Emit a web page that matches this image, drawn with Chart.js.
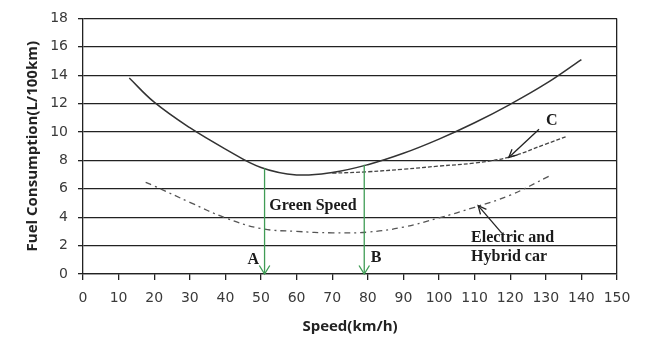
<!DOCTYPE html>
<html><head><meta charset="utf-8">
<script src="https://cdn.jsdelivr.net/npm/chart.js@4/dist/chart.umd.min.js"></script>
<style>html,body{margin:0;padding:0;background:#fff}#wrap{width:645px;height:355px}</style>
</head><body><div id="wrap"><canvas id="c" width="645" height="355"></canvas></div>
<script>
// ---- data ----
const xTickValues = [0,10,20,30,40,50,60,70,80,90,100,110,120,130,140,150];
const yTickValues = [0,2,4,6,8,10,12,14,16,18];

const conventionalSpeed = [13,20,30,40,50,60,70,80,90,100,110,120,130,140];
const conventionalFuel  = [13.8,12.1,10.3,8.8,7.5,6.98,7.15,7.7,8.5,9.5,10.65,11.95,13.4,15.1];

const curveCSpeed = [70,80,90,100,110,120,130,136];
const curveCFuel  = [7.1,7.2,7.38,7.6,7.82,8.25,9.15,9.7];

const hybridSpeed = [17.6,20,30,40,50,60,70,80,90,100,110,120,131];
const hybridFuel  = [6.45,6.2,5.05,3.95,3.2,3.0,2.9,2.95,3.3,3.95,4.7,5.55,6.9];

const greenArrowSpeed = [51,79];
const greenArrowTop   = [7.45,7.7];

const labelTexts = ['Green Speed','A','B','C','Electric and','Hybrid car'];
const labelX     = [64.6,47.8,82.3,131.7,109,109];
const labelY     = [4.81,0.98,1.12,10.8,2.58,1.19];
const labelAlign = ['center','center','center','center','left','left'];

const blackArrowFromX = [128.1,117.7];
const blackArrowFromY = [10.19,2.86];
const blackArrowToX   = [119.6,111.0];
const blackArrowToY   = [8.2,4.81];

const toPts = (xs, ys) => xs.map((v,i)=>({x:v,y:ys[i]}));

function arrowHead(ctx, x1, y1, x2, y2, len, spread){
  const a = Math.atan2(y2-y1, x2-x1);
  ctx.beginPath();
  ctx.moveTo(x2 - len*Math.cos(a-spread), y2 - len*Math.sin(a-spread));
  ctx.lineTo(x2, y2);
  ctx.lineTo(x2 - len*Math.cos(a+spread), y2 - len*Math.sin(a+spread));
  ctx.stroke();
}

const annot = {
  id:'annot',
  afterDatasetsDraw(chart){
    const {ctx, scales:{x,y}} = chart;
    ctx.save();
    ctx.strokeStyle = '#3f9c55';
    ctx.lineWidth = 1.3;
    greenArrowSpeed.forEach((s,i)=>{
      const px = x.getPixelForValue(s);
      const py1 = y.getPixelForValue(greenArrowTop[i]);
      const py2 = y.getPixelForValue(0);
      ctx.beginPath(); ctx.moveTo(px,py1); ctx.lineTo(px,py2); ctx.stroke();
      arrowHead(ctx, px, py1, px, py2, 10, 0.55);
    });
    ctx.strokeStyle = '#222';
    ctx.lineWidth = 1.3;
    blackArrowFromX.forEach((fx,i)=>{
      const x1 = x.getPixelForValue(fx), y1 = y.getPixelForValue(blackArrowFromY[i]);
      const x2 = x.getPixelForValue(blackArrowToX[i]), y2 = y.getPixelForValue(blackArrowToY[i]);
      ctx.beginPath(); ctx.moveTo(x1,y1); ctx.lineTo(x2,y2); ctx.stroke();
      arrowHead(ctx, x1, y1, x2, y2, 9, 0.45);
    });
    ctx.fillStyle = '#1a1a1a';
    ctx.font = 'bold 16px "Liberation Serif", serif';
    ctx.textBaseline = 'middle';
    labelTexts.forEach((t,i)=>{
      ctx.textAlign = labelAlign[i];
      ctx.fillText(t, x.getPixelForValue(labelX[i]), y.getPixelForValue(labelY[i]));
    });
    ctx.restore();
  }
};

new Chart(document.getElementById('c'), {
  type:'scatter',
  data:{
    datasets:[
      {data:toPts(conventionalSpeed, conventionalFuel), showLine:true, borderColor:'#333', borderWidth:1.5, pointRadius:0, tension:0.4, fill:false},
      {data:toPts(curveCSpeed, curveCFuel), showLine:true, borderColor:'#444', borderWidth:1.3, borderDash:[4,2], pointRadius:0, tension:0.4, fill:false},
      {data:toPts(hybridSpeed, hybridFuel), showLine:true, borderColor:'#555', borderWidth:1.3, borderDash:[6,4,2,4], pointRadius:0, tension:0.4, fill:false}
    ]
  },
  options:{
    responsive:false, animation:false, devicePixelRatio:1,
    layout:{padding:{left:0,top:16,right:28,bottom:0}},
    plugins:{legend:{display:false}, tooltip:{enabled:false}},
    scales:{
      x:{
        type:'linear', min:0, max:150,
        afterBuildTicks(s){ s.ticks = xTickValues.map(v=>({value:v})); },
        afterFit(s){ s.height = 81; },
        ticks:{font:{family:'"DejaVu Sans"', size:14}, color:'#3a3a3a', padding:10, maxRotation:0, autoSkip:false},
        grid:{color:(c)=> c.tick && c.tick.value===150 ? '#222' : 'rgba(0,0,0,0)', tickColor:'#222', tickLength:6, lineWidth:1.3},
        border:{color:'#222', width:1.3},
        title:{display:true, text:'Speed(km/h)', font:{family:'"Open Sans"', size:15, weight:'bold'}, color:'#222', padding:{top:0,bottom:19}}
      },
      y:{
        min:0, max:18,
        afterBuildTicks(s){ s.ticks = yTickValues.map(v=>({value:v})); },
        afterFit(s){ s.width = 83; },
        ticks:{font:{family:'"DejaVu Sans"', size:14}, color:'#3a3a3a', padding:10},
        grid:{color:'#222', tickColor:'#222', tickLength:5, lineWidth:1.3},
        border:{color:'#222', width:1.3},
        title:{display:true, text:'Fuel Consumption(L/100km)', font:{family:'"Open Sans"', size:15, weight:'bold'}, color:'#222', padding:{top:24,bottom:0}}
      }
    }
  },
  plugins:[annot]
});
</script></body></html>
